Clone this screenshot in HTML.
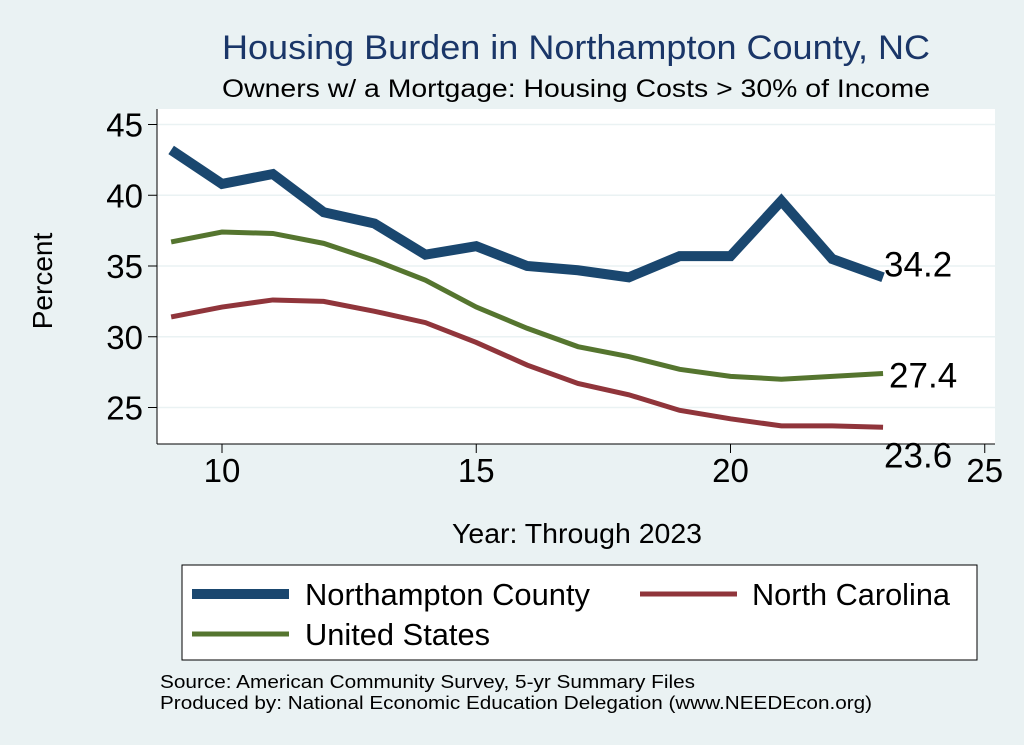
<!DOCTYPE html>
<html><head><meta charset="utf-8"><style>
body{margin:0;background:#eaf2f3;}
svg{display:block;font-family:"Liberation Sans",sans-serif;}
</style></head><body>
<svg id="chart" width="1024" height="745">
<rect x="0" y="0" width="1024" height="745" fill="#eaf2f3"/>
<text x="222" y="59" font-size="34" fill="#1a3668" textLength="708" lengthAdjust="spacingAndGlyphs">Housing Burden in Northampton County, NC</text>
<text x="222" y="97" font-size="25" fill="#000" textLength="708" lengthAdjust="spacingAndGlyphs">Owners w/ a Mortgage: Housing Costs &gt; 30% of Income</text>
<rect x="157" y="109" width="838" height="335" fill="#fff"/>
<g id="grid"></g>
<g id="axes"></g>
<g id="series"></g>
<text x="52" y="281" text-anchor="middle" font-size="28" transform="rotate(-90 52 281)">Percent</text>
<text x="452" y="543" font-size="28" textLength="250" lengthAdjust="spacingAndGlyphs">Year: Through 2023</text>
<g>
<rect x="182" y="565" width="795" height="95" fill="#fff" stroke="#000" stroke-width="1"/>
<line x1="192" y1="594" x2="289" y2="594" stroke="#1a476f" stroke-width="10"/>
<text x="305" y="605" font-size="31" textLength="285" lengthAdjust="spacingAndGlyphs">Northampton County</text>
<line x1="640" y1="594" x2="737" y2="594" stroke="#90353b" stroke-width="5"/>
<text x="752" y="605" font-size="31" textLength="198" lengthAdjust="spacingAndGlyphs">North Carolina</text>
<line x1="192" y1="634" x2="289" y2="634" stroke="#55752f" stroke-width="5"/>
<text x="305" y="645" font-size="31" textLength="185" lengthAdjust="spacingAndGlyphs">United States</text>
</g>
<text x="160" y="688" font-size="18" textLength="535" lengthAdjust="spacingAndGlyphs">Source: American Community Survey, 5-yr Summary Files</text>
<text x="160" y="709" font-size="18" textLength="712" lengthAdjust="spacingAndGlyphs">Produced by: National Economic Education Delegation (www.NEEDEcon.org)</text>
</svg>
<script>
const years=[9,10,11,12,13,14,15,16,17,18,19,20,21,22,23];
const northampton=[43.2,40.8,41.5,38.8,38.0,35.8,36.4,35.0,34.7,34.2,35.7,35.7,39.6,35.5,34.2];
const unitedStates=[36.7,37.4,37.3,36.6,35.4,34.0,32.1,30.6,29.3,28.6,27.7,27.2,27.0,27.2,27.4];
const northCarolina=[31.4,32.1,32.6,32.5,31.8,31.0,29.6,28.0,26.7,25.9,24.8,24.2,23.7,23.7,23.6];
const xTicks=[10,15,20,25];
const yTicks=[25,30,35,40,45];
const NS="http://www.w3.org/2000/svg";
function xs(v){return 222+(v-10)*50.85;}
function ys(v){return 407.5-(v-25)*14.15;}
function mk(tag,attrs,parent){const e=document.createElementNS(NS,tag);for(const k in attrs)e.setAttribute(k,attrs[k]);parent.appendChild(e);return e;}
const grid=document.getElementById('grid'),axes=document.getElementById('axes'),ser=document.getElementById('series');
yTicks.forEach(t=>{
 const g=mk('line',{x1:157,x2:995,y1:ys(t),y2:ys(t),stroke:'#eaf2f3','stroke-width':1.5},grid);
 
 
 const tk=mk('line',{x1:148,x2:157,y1:ys(t),y2:ys(t),stroke:'#000'},axes);
 
 
 const lb=mk('text',{x:143,y:ys(t)+12,'text-anchor':'end','font-size':33},axes);
 lb.textContent=t;
 
 
});
const ya=mk('line',{x1:157,x2:157,y1:109,y2:444,stroke:'#000'},axes);


const xa=mk('line',{x1:157,x2:995,y1:444,y2:444,stroke:'#000'},axes);


xTicks.forEach(t=>{
 const tk=mk('line',{x1:xs(t),x2:xs(t),y1:444,y2:453,stroke:'#000'},axes);
 
 
 const lb=mk('text',{x:xs(t),y:482,'text-anchor':'middle','font-size':33},axes);
 lb.textContent=t;
 
 
});
function line(vals,color,w,name,dx,dy){
 const p=mk('polyline',{points:vals.map((v,i)=>xs(years[i])+','+ys(v)).join(' '),fill:'none',stroke:color,'stroke-width':w,'stroke-linejoin':'miter'},ser);
 
 
 const last=vals[vals.length-1];
 const lb=mk('text',{x:xs(years[years.length-1])+dx,y:ys(last)+dy,'font-size':35},ser);
 lb.textContent=last.toFixed(1);
 
 
}
line(northCarolina,'#90353b',5,'north-carolina',1,40);
line(unitedStates,'#55752f',5,'united-states',6,14);
line(northampton,'#1a476f',10,'northampton',1,-1);
</script>
</body></html>
